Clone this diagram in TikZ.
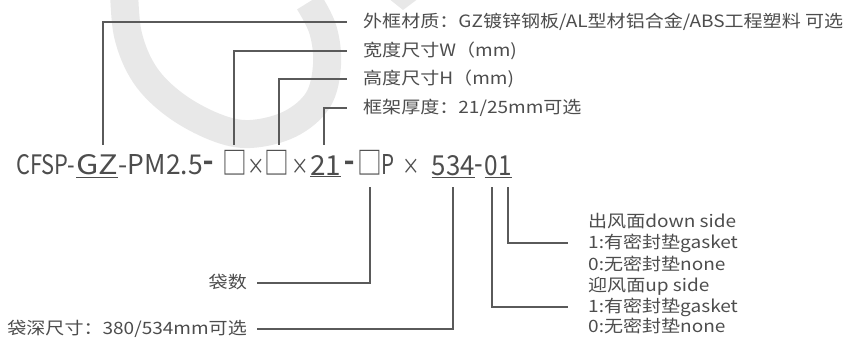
\documentclass[tikz,border=0pt]{standalone}
\usepackage{graphicx}
\usepackage{fontspec}
\newfontfamily\labfont[FakeStretch=1.12]{Noto Sans CJK SC}
\newfontfamily\codefont{Noto Sans CJK SC}
\newfontfamily\boxfont[FakeStretch=0.8]{Noto Sans CJK SC}
\newfontfamily\dashfont[FakeBold=4,FakeStretch=0.85]{Noto Sans CJK SC}
\newcommand\fitw[2]{\resizebox{#1pt}{20pt}{#2}}
\definecolor{txt}{HTML}{4D4D4D}
\definecolor{ln}{HTML}{5A5A5A}
\definecolor{wm}{HTML}{E8E8E8}
\begin{document}
\begin{tikzpicture}[x=1pt,y=-1pt,
  code/.style={font=\codefont\fontsize{31}{34}\selectfont, text=txt, inner sep=0pt, anchor=base west, text height=20pt, text depth=6pt},
  sym/.style={code, anchor=base, font=\boxfont\fontsize{31}{34}\selectfont},
  times/.style={code, anchor=base, font=\boxfont\fontsize{22}{26}\selectfont},
  heavydash/.style={code, anchor=base, font=\dashfont\fontsize{31}{34}\selectfont},
  lab/.style={font=\labfont\fontsize{17}{20}\selectfont, text=txt, inner sep=0pt, text height=13pt, text depth=2pt},
  conn/.style={draw=ln, line width=2pt}]
\useasboundingbox (0,0) rectangle (846,342);
\clip (0,0) rectangle (846,342);
\fill[white] (0,0) rectangle (846,342);
% watermark
\draw[wm, line width=28pt] plot[smooth, tension=0.6] coordinates {(124,-12) (128,35) (145,75) (175,105) (215,127) (250,134) (290,124) (318,100) (327,65) (323,30) (309,2)};
\fill[wm] (388,-2) -- (419,-2) -- (403,10) -- cycle;
% code line
\node[code] (t1) at (16,175) {\fitw{59}{CFSP-}};
\node[code] (gz) at (76,175) {\underline{\fitw{42}{GZ}}};
\node[code] (t2) at (118.5,175) {\fitw{84}{-PM2.5}};
\node[heavydash] (d1) at (208,171) {\makebox[10pt]{-}};
\node[sym] (b1) at (235,175) {\makebox[20pt]{□}};
\node[times] (x1) at (256,175) {\makebox[11pt]{×}};
\node[sym] (b2) at (277,175) {\makebox[20pt]{□}};
\node[times] (x2) at (300,175) {\makebox[11pt]{×}};
\node[code] (n21) at (310,175) {\underline{\fitw{31}{21}}};
\node[heavydash] (d2) at (349,171) {\makebox[10pt]{-}};
\node[sym] (b3) at (370,175) {\makebox[20pt]{□}};
\node[code] (p) at (381,175) {\fitw{13}{P}};
\node[times] (x3) at (411,175) {\makebox[11pt]{×}};
\node[code] (n534) at (431.5,175) {\underline{\fitw{43}{534}}};
\node[sym] (t4) at (478.5,175) {\makebox[8pt]{-}};
\node[code] (n01) at (484.5,175) {\underline{\fitw{27}{01}}};
% top labels
\node[lab, anchor=west] (l1) at (363,21.7) {外框材质：GZ镀锌钢板/AL型材铝合金/ABS工程塑料 可选};
\node[lab, anchor=west] (l2) at (363,50.7) {宽度尺寸W（mm)};
\node[lab, anchor=west] (l3) at (363,79.3) {高度尺寸H（mm)};
\node[lab, anchor=west] (l4) at (363,108.3) {框架厚度：21/25mm可选};
% bottom left labels
\node[lab, anchor=east] (lb1) at (247,283) {袋数};
\node[lab, anchor=east] (lb2) at (247,328.5) {袋深尺寸：380/534mm可选};
% right labels
\node[lab, anchor=west] (r1) at (588,221.7) {出风面down side};
\node[lab, anchor=west] (r2) at (588,243.3) {1:有密封垫gasket};
\node[lab, anchor=west] (r3) at (588,264.5) {0:无密封垫none};
\node[lab, anchor=west] (r4) at (588,285.5) {迎风面up side};
\node[lab, anchor=west] (r5) at (588,306.7) {1:有密封垫gasket};
\node[lab, anchor=west] (r6) at (588,327) {0:无密封垫none};
% connectors top
\draw[conn, shorten <=10pt] ([xshift=6pt]gz.north) |- ([xshift=-16pt]l1.west);
\draw[conn, shorten <=10pt] ([xshift=-1pt]b1.north) |- ([xshift=-16pt]l2.west);
\draw[conn, shorten <=10pt] ([xshift=2pt]b2.north) |- ([xshift=-16pt]l3.west);
\draw[conn, shorten <=10pt] ([xshift=-2pt]n21.north) |- ([xshift=-16pt]l4.west);
% connectors bottom
\draw[conn, shorten <=6pt] (b3.south) |- ([xshift=10pt]lb1.east);
\draw[conn, shorten <=6pt] (n534.south) |- ([xshift=10pt]lb2.east);
\draw[conn, shorten <=6pt] ([xshift=10pt]n01.south) |- ([xshift=-20pt]r2.west);
\draw[conn, shorten <=6pt] ([xshift=-6pt]n01.south) |- ([xshift=-20pt]r5.west);
\end{tikzpicture}
\end{document}
